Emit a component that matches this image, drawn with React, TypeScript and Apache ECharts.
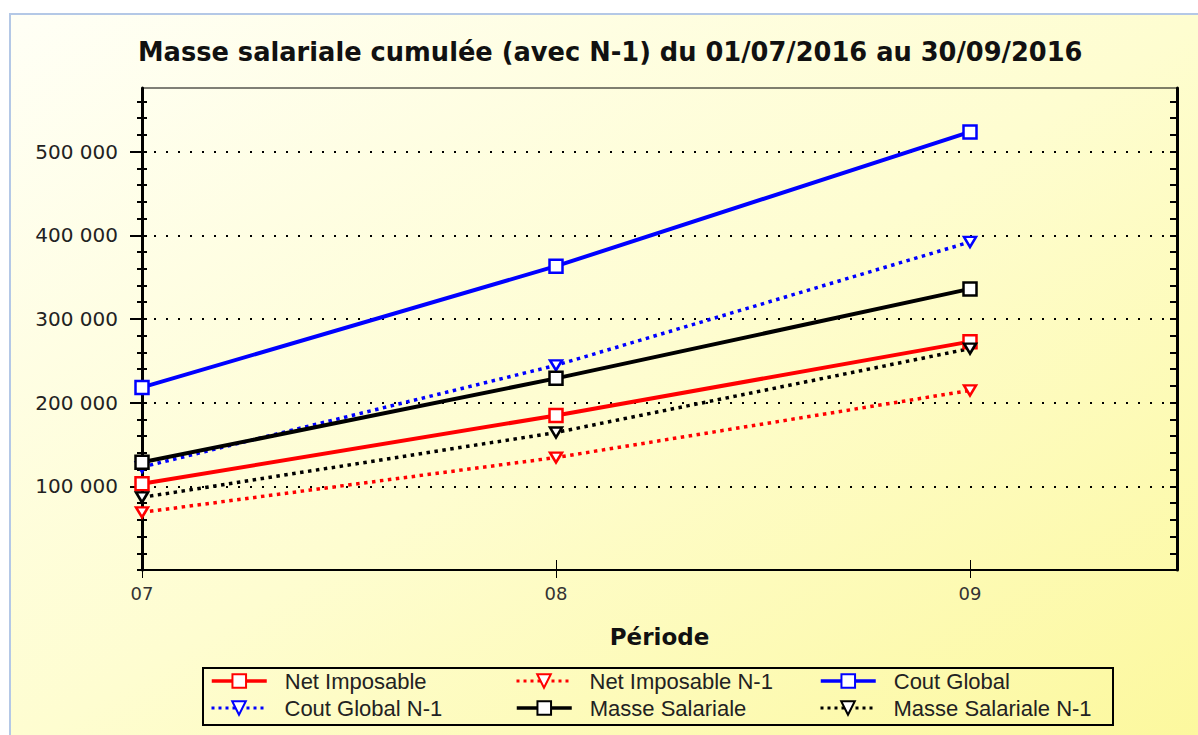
import React, { useEffect, useRef } from 'react';
import * as echarts from 'echarts';

// ---- Data ----
const periods = ['07', '08', '09'];
const yTicks = [100000, 200000, 300000, 400000, 500000];
const minorStep = 20000;
const yMax = 576000;

const seriesNames = [
  'Net Imposable',
  'Net Imposable N-1',
  'Cout Global',
  'Cout Global N-1',
  'Masse Salariale',
  'Masse Salariale N-1',
];
const netImposable = [103000, 184700, 272900];
const netImposableN1 = [68900, 134400, 214600];
const coutGlobal = [218200, 363100, 523500];
const coutGlobalN1 = [123000, 244600, 392000];
const masseSalariale = [128700, 229000, 335900];
const masseSalarialeN1 = [86800, 164300, 264600];

const seriesValues = [netImposable, netImposableN1, coutGlobal, coutGlobalN1, masseSalariale, masseSalarialeN1];
const seriesColors = ['#ff0000', '#ff0000', '#0000ff', '#0000ff', '#000000', '#000000'];
const seriesPrevYear = [false, true, false, true, false, true];

const legendX = [210, 515, 819];
const legendY = [670, 697];

const fmtThousands = (v: number) => {
  if (!v) return '';
  const s = String(Math.round(v));
  return s.replace(/\B(?=(\d{3})+(?!\d))/g, ' ');
};

export default function App() {
  const ref = useRef<HTMLDivElement>(null);

  useEffect(() => {
    if (!ref.current) return;
    const chart = echarts.init(ref.current, undefined, { renderer: 'svg' });

    const minorTicks: number[] = [];
    for (let v = 0; v <= yTicks[yTicks.length - 1] + 3 * minorStep; v += minorStep) {
      if (v < yMax) minorTicks.push(v);
    }

    const series = seriesNames.map((name, i) => {
      const prev = seriesPrevYear[i];
      const color = seriesColors[i];
      return {
        name,
        type: 'line',
        xAxisIndex: 0,
        yAxisIndex: 0,
        data: seriesValues[i].map((v, k) => [k, v]),
        symbol: prev ? 'triangle' : 'rect',
        symbolRotate: prev ? 180 : 0,
        symbolSize: prev ? [12, 10] : 13,
        showAllSymbol: true,
        itemStyle: { color: '#ffffff', borderColor: color, borderWidth: 2.5 },
        lineStyle: { color, width: prev ? 3.5 : 4, type: prev ? [3.5, 4.5] : 'solid' },
        emphasis: { disabled: true },
        z: 3,
      };
    });

    const legends = seriesNames.map((name, i) => {
      const prev = seriesPrevYear[i];
      return {
        show: true,
        data: [name],
        left: legendX[i % 3],
        top: legendY[Math.floor(i / 3)],
        padding: 0,
        itemWidth: 55,
        itemHeight: 17,
        selectedMode: false,
        lineStyle: { width: prev ? 3 : 3.5, type: prev ? [3, 4] : 'solid' },
        formatter: (n: string) => `{t|${n}}`,
        textStyle: {
          rich: {
            t: {
              fontFamily: 'Liberation Sans',
              fontSize: 22,
              lineHeight: 22,
              color: '#222222',
              padding: [0, 0, 0, 13],
            },
          },
        },
      };
    });

    const option: any = {
      animation: false,
      backgroundColor: '#ffffff',
      title: {
        text: 'Masse salariale cumulée (avec N-1) du 01/07/2016 au 30/09/2016',
        left: 138,
        top: 39,
        padding: 0,
        textStyle: { fontFamily: 'DejaVu Sans', fontWeight: 'bold', fontSize: 25.7, color: '#111111' },
      },
      graphic: [
        {
          type: 'rect',
          z: -100,
          silent: true,
          shape: { x: 10, y: 14, width: 1200, height: 740 },
          style: {
            fill: {
              type: 'linear', x: 0, y: 0, x2: 1, y2: 1,
              colorStops: [
                { offset: 0, color: '#fffff6' },
                { offset: 0.5, color: '#fefdd0' },
                { offset: 1, color: '#fcf89c' },
              ],
            },
            stroke: '#b4c8e6',
            lineWidth: 2,
          },
        },
        {
          type: 'rect',
          z: -50,
          silent: true,
          shape: { x: 203, y: 668, width: 910, height: 57 },
          style: { fill: 'none', stroke: '#000000', lineWidth: 2 },
        },
      ],
      legend: legends,
      grid: {
        left: 142,
        top: 88,
        right: 21,
        bottom: 165,
        show: true,
        backgroundColor: 'transparent',
        borderColor: '#000000',
        borderWidth: 1,
      },
      xAxis: [
        {
          type: 'value',
          position: 'bottom',
          min: 0,
          max: 2.5,
          interval: 1,
          axisLine: { show: true, lineStyle: { color: '#000000', width: 2 } },
          axisTick: { show: true, inside: false, length: 8, lineStyle: { color: '#000000', width: 1 } },
          axisLabel: {
            formatter: (v: number) => periods[v] ?? '',
            margin: 14,
            fontSize: 18,
            fontFamily: 'DejaVu Sans',
            color: '#333333',
            showMaxLabel: false,
          },
          splitLine: { show: false },
          name: 'Période',
          nameLocation: 'middle',
          nameGap: 55,
          nameTextStyle: { fontSize: 23, fontWeight: 'bold', fontFamily: 'DejaVu Sans', color: '#111111' },
        },
        {
          type: 'value',
          position: 'bottom',
          min: 0,
          max: 2.5,
          interval: 1,
          axisLine: { show: false },
          axisTick: { show: true, inside: true, length: 10, lineStyle: { color: '#000000', width: 1 } },
          axisLabel: { show: false },
          splitLine: { show: false },
        },
      ],
      yAxis: [
        {
          type: 'value',
          position: 'left',
          min: 0,
          max: yMax,
          interval: 100000,
          axisLine: { show: true, lineStyle: { color: '#000000', width: 3 } },
          axisTick: { show: true, inside: false, length: 12, customValues: [0, ...yTicks], lineStyle: { color: '#000000', width: 2 } },
          axisLabel: {
            margin: 24,
            formatter: (v: number) => (yTicks.includes(v) ? fmtThousands(v) : ''),
            fontSize: 20,
            fontFamily: 'DejaVu Sans',
            color: '#222222',
            showMinLabel: false,
            showMaxLabel: false,
          },
          splitLine: { show: true, lineStyle: { color: '#000000', width: 2, type: [2, 10] } },
        },
        {
          type: 'value',
          position: 'left',
          min: 0,
          max: yMax,
          interval: minorStep,
          axisLine: { show: false },
          axisTick: { show: true, inside: false, length: 5, customValues: minorTicks, lineStyle: { color: '#000000', width: 2 } },
          axisLabel: { show: false },
          splitLine: { show: false },
        },
        {
          type: 'value',
          position: 'left',
          min: 0,
          max: yMax,
          interval: minorStep,
          axisLine: { show: false },
          axisTick: { show: true, inside: true, length: 5, customValues: minorTicks, lineStyle: { color: '#000000', width: 2 } },
          axisLabel: { show: false },
          splitLine: { show: false },
        },
        {
          type: 'value',
          position: 'right',
          min: 0,
          max: yMax,
          interval: minorStep,
          axisLine: { show: true, lineStyle: { color: '#000000', width: 3 } },
          axisTick: { show: true, inside: true, length: 7, customValues: minorTicks, lineStyle: { color: '#000000', width: 2 } },
          axisLabel: { show: false },
          splitLine: { show: false },
        },
      ],
      series,
    };

    chart.setOption(option);
    return () => chart.dispose();
  }, []);

  return (
    <div
      ref={ref}
      style={{ position: 'fixed', left: 0, top: 0, width: 1198, height: 735 }}
    />
  );
}
